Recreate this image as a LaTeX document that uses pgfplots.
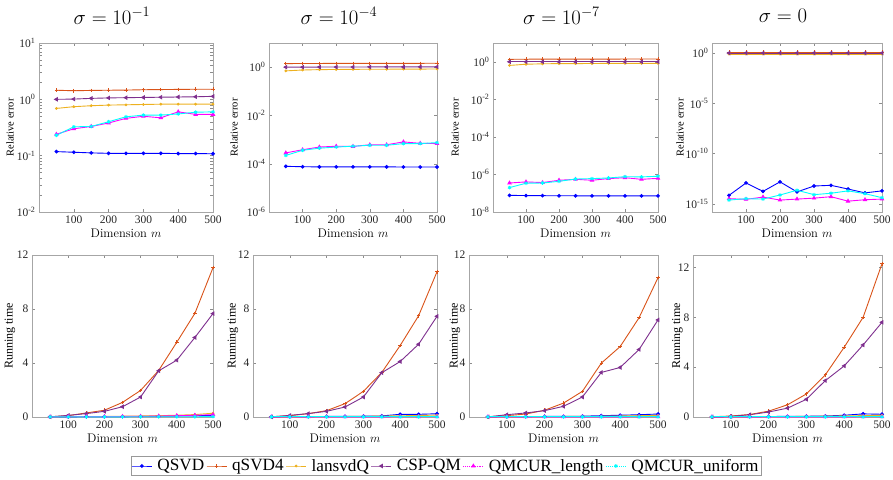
\documentclass[border=0pt]{standalone}
\usepackage[no-math]{fontspec}
\setmainfont{Liberation Serif}
\newfontfamily\lmr{Latin Modern Roman}
\usepackage{pgfplots}
\usepackage{pgfplotstable}
\pgfplotsset{compat=1.18}

\definecolor{cQSVD}{rgb}{0,0,1}
\definecolor{cQ4}{rgb}{0.85,0.325,0.098}
\definecolor{cLan}{rgb}{0.929,0.694,0.125}
\definecolor{cCSP}{rgb}{0.494,0.184,0.556}
\definecolor{cLen}{rgb}{1,0,1}
\definecolor{cUni}{rgb}{0,1,1}

% columns: a=QSVD b=qSVD4 c=lansvdQ d=CSP-QM e=QMCUR_length f=QMCUR_uniform
\pgfplotstableread{
m a b c d e f
50 0.118 1.45 0.69 1.00 0.24 0.23
100 0.115 1.42 0.74 1.01 0.30 0.325
150 0.112 1.44 0.77 1.04 0.33 0.33
200 0.110 1.45 0.79 1.06 0.38 0.40
250 0.110 1.46 0.80 1.07 0.46 0.49
300 0.110 1.48 0.81 1.08 0.50 0.525
350 0.110 1.49 0.82 1.09 0.47 0.525
400 0.109 1.50 0.82 1.10 0.60 0.55
450 0.109 1.51 0.82 1.11 0.54 0.59
500 0.108 1.51 0.82 1.13 0.54 0.60
}\topA
\pgfplotstableread{
m a b c d e f
50 7.8e-5 1.40 0.70 1.00 2.8e-4 2.2e-4
100 7.5e-5 1.42 0.76 1.00 3.8e-4 3.6e-4
150 7.4e-5 1.42 0.79 1.01 4.9e-4 4.4e-4
200 7.4e-5 1.43 0.80 1.01 5.3e-4 4.9e-4
250 7.4e-5 1.43 0.81 1.01 5.2e-4 5.3e-4
300 7.4e-5 1.43 0.82 1.02 6.1e-4 5.8e-4
350 7.4e-5 1.44 0.82 1.02 6.1e-4 5.8e-4
400 7.3e-5 1.44 0.83 1.02 8.0e-4 6.8e-4
450 7.3e-5 1.44 0.83 1.03 7.0e-4 6.8e-4
500 7.3e-5 1.45 0.84 1.03 6.8e-4 7.5e-4
}\topB
\pgfplotstableread{
m a b c d e f
50 7.7e-8 1.35 0.64 1.0 3.5e-7 2.0e-7
100 7.5e-8 1.37 0.74 1.0 4.0e-7 3.4e-7
150 7.4e-8 1.38 0.78 1.0 3.7e-7 3.5e-7
200 7.3e-8 1.38 0.80 1.0 4.9e-7 4.3e-7
250 7.3e-8 1.39 0.80 1.0 5.5e-7 5.7e-7
300 7.2e-8 1.39 0.81 1.0 4.9e-7 6.0e-7
350 7.2e-8 1.39 0.82 1.0 6.0e-7 6.5e-7
400 7.2e-8 1.40 0.82 1.0 6.7e-7 7.6e-7
450 7.2e-8 1.40 0.82 1.0 5.5e-7 7.4e-7
500 7.2e-8 1.40 0.82 1.0 6.2e-7 8.0e-7
}\topC
\pgfplotstableread{
m a b c d e f
50 6.8e-15 1.25 0.8 1.0 3.2e-15 2.3e-15
100 1.17e-13 1.25 0.8 1.0 2.7e-15 3.2e-15
150 1.7e-14 1.25 0.8 1.0 4.6e-15 2.9e-15
200 1.5e-13 1.25 0.8 1.0 2.3e-15 7.4e-15
250 1.5e-14 1.25 0.8 1.0 2.9e-15 2.2e-14
300 5.8e-14 1.25 0.8 1.0 3.6e-15 8.0e-15
350 6.8e-14 1.25 0.8 1.0 5.0e-15 1.1e-14
400 2.9e-14 1.25 0.8 1.0 1.8e-15 1.9e-14
450 1.2e-14 1.25 0.8 1.0 2.5e-15 1.0e-14
500 1.9e-14 1.25 0.8 1.0 2.9e-15 4.0e-15
}\topD
\pgfplotstableread{
m a b c d e f
50 0.01 0.02 0.01 0.01 0.01 0.01
100 0.01 0.10 0.02 0.12 0.02 0.01
150 0.02 0.30 0.03 0.25 0.03 0.01
200 0.02 0.50 0.04 0.42 0.03 0.01
250 0.03 1.08 0.06 0.76 0.04 0.01
300 0.04 1.97 0.08 1.48 0.05 0.02
350 0.05 3.45 0.10 3.42 0.07 0.02
400 0.07 5.54 0.13 4.21 0.10 0.02
450 0.09 7.68 0.18 5.89 0.13 0.02
500 0.12 11.06 0.28 7.66 0.17 0.03
}\botA
\pgfplotstableread{
m a b c d e f
50 0.01 0.02 0.01 0.01 0.01 0.01
100 0.02 0.10 0.01 0.12 0.01 0.01
150 0.03 0.25 0.02 0.25 0.01 0.01
200 0.04 0.47 0.03 0.42 0.01 0.01
250 0.05 0.99 0.04 0.74 0.01 0.01
300 0.06 1.90 0.05 1.48 0.01 0.01
350 0.08 3.30 0.07 3.28 0.01 0.01
400 0.20 5.30 0.09 4.11 0.02 0.01
450 0.20 7.50 0.11 5.39 0.02 0.01
500 0.24 10.76 0.14 7.46 0.02 0.01
}\botB
\pgfplotstableread{
m a b c d e f
50 0.01 0.02 0.01 0.01 0.01 0.01
100 0.02 0.10 0.01 0.17 0.01 0.01
150 0.03 0.22 0.02 0.30 0.01 0.01
200 0.04 0.50 0.03 0.47 0.01 0.01
250 0.05 1.03 0.04 0.79 0.01 0.01
300 0.06 1.90 0.05 1.48 0.01 0.01
350 0.10 3.99 0.06 3.30 0.01 0.01
400 0.13 5.22 0.08 3.67 0.01 0.01
450 0.17 7.36 0.10 5.00 0.02 0.01
500 0.22 10.32 0.12 7.19 0.02 0.01
}\botC
\pgfplotstableread{
m a b c d e f
50 0.01 0.02 0.01 0.01 0.01 0.01
100 0.02 0.08 0.01 0.05 0.01 0.01
150 0.03 0.20 0.02 0.18 0.01 0.01
200 0.04 0.47 0.03 0.40 0.01 0.01
250 0.05 0.98 0.04 0.71 0.01 0.01
300 0.06 1.85 0.05 1.42 0.01 0.01
350 0.08 3.38 0.07 2.92 0.01 0.01
400 0.14 5.60 0.09 4.10 0.01 0.01
450 0.25 8.00 0.11 5.78 0.02 0.01
500 0.22 12.30 0.14 7.60 0.02 0.01
}\botD

\pgfplotsset{
  sQSVD/.style={cQSVD, line width=0.9pt, mark=*, mark size=1.4pt},
  sQ4/.style={cQ4, line width=0.9pt, mark=+, mark size=1.8pt},
  sLan/.style={cLan, line width=0.9pt, mark=*, mark size=0.9pt},
  sCSP/.style={cCSP, line width=0.9pt, mark=triangle*, mark size=1.8pt, mark options={rotate=90}},
  sLen/.style={cLen, line width=0.9pt, mark=triangle*, mark size=1.8pt},
  sUni/.style={cUni, line width=0.9pt, mark=asterisk, mark size=1.8pt},
  myPanel/.style={scale only axis, anchor=south west, clip=false,
    xmin=0, xmax=500, xtick={100,200,300,400,500},
    tick align=inside, major tick length=3pt,
    axis line style={black!35}, every tick/.style={black!45},
    tick label style={font=\fontsize{11.5}{12}\selectfont, text=black!85},
    xlabel={\lmr Dimension $m$},
    xlabel style={at={(axis description cs:0.5,0)}, anchor=center, yshift=-21pt, font=\fontsize{12.5}{14}\selectfont},
    ylabel style={anchor=center},
    /pgf/number format/assume math mode=true},
  myTop/.style={height=169pt, ylabel={Relative error},
    ylabel style={font=\fontsize{10.5}{12}\selectfont},
    title style={at={(axis description cs:0.5,1)}, anchor=center, yshift=21pt, xshift=-14pt, font=\fontsize{20}{22}\selectfont}},
  myBot/.style={height=162pt, ymin=0, ytick={0,4,8,12}, ylabel={Running time},
    ylabel style={font=\fontsize{12}{14}\selectfont}},
}

\newcommand\allsix[1]{%
  \addplot[sQSVD] table[x=m,y=a]{#1};
  \addplot[sQ4] table[x=m,y=b]{#1};
  \addplot[sLan] table[x=m,y=c]{#1};
  \addplot[sCSP] table[x=m,y=d]{#1};
  \addplot[sLen] table[x=m,y=e]{#1};
  \addplot[sUni] table[x=m,y=f]{#1};
}

\begin{document}
\begin{tikzpicture}
\useasboundingbox (0pt,0pt) rectangle (893pt,479pt);

% top row: relative error
\begin{axis}[ymode=log, myTop, myPanel, at={(39pt,267pt)}, width=174pt, ymin=1e-2, ymax=1e1,
  ytick={1e-2,1e-1,1,1e1}, yticklabels={10\textsuperscript{-2},10\textsuperscript{-1},10\textsuperscript{0},10\textsuperscript{1}},
  title={$\sigma=10^{-1}$}, ylabel style={at={(axis description cs:-0.167,0.5)}}]
\allsix{\topA}
\end{axis}
\begin{axis}[ymode=log, myTop, myPanel, at={(269pt,267pt)}, width=168pt, ymin=1e-6, ymax=1e1,
  ytick={1e-6,1e-4,1e-2,1}, yticklabels={10\textsuperscript{-6},10\textsuperscript{-4},10\textsuperscript{-2},10\textsuperscript{0}},
  title={$\sigma=10^{-4}$}, ylabel style={at={(axis description cs:-0.208,0.5)}}]
\allsix{\topB}
\end{axis}
\begin{axis}[ymode=log, myTop, myPanel, at={(493pt,267pt)}, width=165pt, ymin=1e-8, ymax=1e1,
  ytick={1e-8,1e-6,1e-4,1e-2,1}, yticklabels={10\textsuperscript{-8},10\textsuperscript{-6},10\textsuperscript{-4},10\textsuperscript{-2},10\textsuperscript{0}},
  title={$\sigma=10^{-7}$}, ylabel style={at={(axis description cs:-0.230,0.5)}}]
\allsix{\topC}
\end{axis}
\begin{axis}[ymode=log, myTop, myPanel, at={(712pt,267pt)}, width=170pt, ymin=1.5e-16, ymax=1e1,
  ytick={1e-15,1e-10,1e-5,1}, yticklabels={10\textsuperscript{-15},10\textsuperscript{-10},10\textsuperscript{-5},10\textsuperscript{0}},
  title={$\sigma=0$}, ylabel style={at={(axis description cs:-0.188,0.5)}}]
\allsix{\topD}
\end{axis}

% bottom row: running time
\begin{axis}[myBot, myPanel, at={(32pt,62pt)}, width=181pt, ymax=12,
  ylabel style={at={(axis description cs:-0.122,0.5)}}]
\allsix{\botA}
\end{axis}
\begin{axis}[myBot, myPanel, at={(253pt,62pt)}, width=184pt, ymax=12,
  ylabel style={at={(axis description cs:-0.109,0.5)}}]
\allsix{\botB}
\end{axis}
\begin{axis}[myBot, myPanel, at={(469pt,62pt)}, width=189pt, ymax=12,
  ylabel style={at={(axis description cs:-0.075,0.5)}}]
\allsix{\botC}
\end{axis}
\begin{axis}[myBot, myPanel, at={(693pt,62pt)}, width=189pt, ymax=13,
  ylabel style={at={(axis description cs:-0.082,0.5)}}]
\allsix{\botD}
\end{axis}

% shared legend
\begin{axis}[hide axis, scale only axis, width=10pt, height=10pt, anchor=center, at={(446pt,13pt)},
  xmin=0, xmax=1, ymin=0, ymax=1, legend columns=6,
  legend style={at={(0.5,0.5)}, anchor=center, draw=black!40, font=\fontsize{17.2}{18}\selectfont,
    inner sep=0.5pt, /tikz/every odd column/.append style={column sep=3pt}},
  legend image code/.code={\draw[mark repeat=2, mark phase=2] plot coordinates {(0pt,0pt)(10pt,0pt)(20pt,0pt)};}]
\addlegendimage{sQSVD}\addlegendentry{QSVD}
\addlegendimage{sQ4}\addlegendentry{qSVD4}
\addlegendimage{sLan}\addlegendentry{lansvdQ}
\addlegendimage{sCSP}\addlegendentry{CSP-QM}
\addlegendimage{sLen, densely dotted, mark options={solid}}\addlegendentry{QMCUR\_length}
\addlegendimage{sUni, densely dotted, mark options={solid}}\addlegendentry{QMCUR\_uniform}
\end{axis}
\end{tikzpicture}
\end{document}
